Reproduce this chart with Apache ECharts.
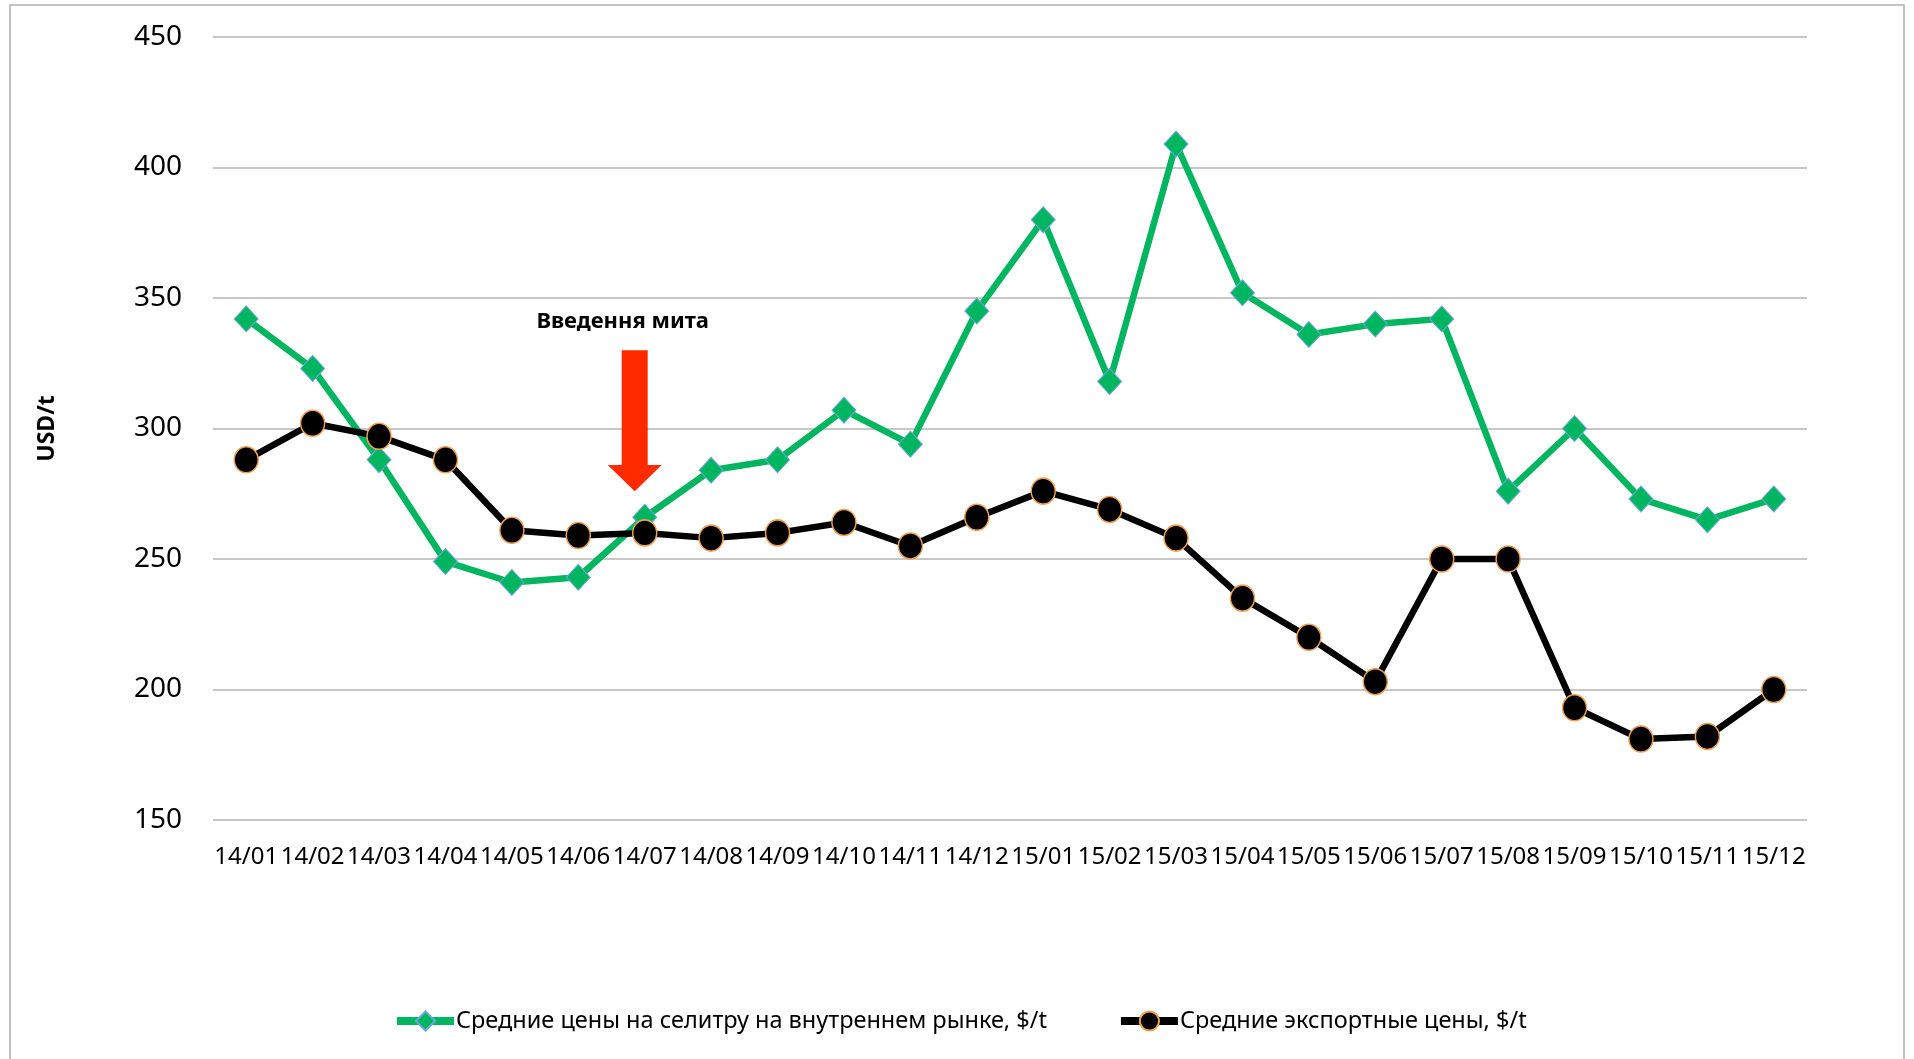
<!DOCTYPE html>
<html>
<head>
<meta charset="utf-8">
<title>Цены на селитру</title>
<script src="https://cdn.jsdelivr.net/npm/echarts@6/dist/echarts.min.js"></script>
<style>
  html, body { margin: 0; padding: 0; background: #fff; }
  #chart { width: 1914px; height: 1059px; }
</style>
</head>
<body>
<div id="chart"></div>
<script>
// місяці (рік/місяць)
const categories = ['14/01', '14/02', '14/03', '14/04', '14/05', '14/06', '14/07', '14/08', '14/09', '14/10', '14/11', '14/12',
  '15/01', '15/02', '15/03', '15/04', '15/05', '15/06', '15/07', '15/08', '15/09', '15/10', '15/11', '15/12']
// средние цены на внутреннем рынке, $/t
const domesticPrices = [342, 323, 288, 249, 241, 243, 266, 284, 288, 307, 294, 345,
  380, 318, 409, 352, 336, 340, 342, 276, 300, 273, 265, 273]
// средние экспортные цены, $/t
const exportPrices = [288, 302, 297, 288, 261, 259, 260, 258, 260, 264, 255, 266,
  276, 269, 258, 235, 220, 203, 250, 250, 193, 181, 182, 200]
const yMin = 150
const yMax = 450
const yStep = 50

const domesticName = 'Средние цены на селитру на внутреннем рынке, $/t'
const exportName = 'Средние экспортные цены, $/t'
const font = '"Noto Sans", "Open Sans", sans-serif'

const myChart = echarts.init(document.getElementById('chart'))

const option = {
  backgroundColor: '#fff',
  animation: false,
  grid: {
    left: 213,
    right: 107,
    top: 37,
    bottom: 239,
    containLabel: false
  },
  legend: {
    left: 388,
    top: 1004,
    itemWidth: 57,
    itemHeight: 24,
    itemGap: 70,
    textStyle: { fontFamily: font, fontSize: 23.5, color: '#000', padding: [0, 0, 0, -3] },
    lineStyle: { width: 8 },
    data: [domesticName, exportName]
  },
  xAxis: {
    type: 'category',
    data: categories,
    boundaryGap: true,
    axisLine: { show: false },
    axisTick: { show: false },
    axisLabel: {
      interval: 0,
      margin: 25,
      fontFamily: font,
      fontSize: 24,
      color: '#000'
    }
  },
  yAxis: {
    type: 'value',
    min: yMin,
    max: yMax,
    interval: yStep,
    name: 'USD/t',
    nameLocation: 'middle',
    nameRotate: 90,
    nameGap: 154,
    nameTextStyle: { fontFamily: font, fontSize: 23, fontWeight: 'bold', color: '#000' },
    axisLine: { show: false },
    axisTick: { show: false },
    axisLabel: {
      margin: 31,
      fontFamily: font,
      fontSize: 28,
      color: '#000'
    },
    splitLine: { lineStyle: { color: '#b4b4b4', width: 1.5 } }
  },
  series: [
    {
      name: domesticName,
      type: 'line',
      data: domesticPrices,
      symbol: 'diamond',
      symbolSize: [24, 26],
      lineStyle: { color: '#00b55f', width: 6.5 },
      itemStyle: { color: '#00b55f', borderColor: '#6fa8dc', borderWidth: 1 }
    },
    {
      name: exportName,
      type: 'line',
      data: exportPrices,
      symbol: 'circle',
      symbolSize: [24, 26],
      lineStyle: { color: '#000', width: 6.5 },
      itemStyle: { color: '#000', borderColor: '#f0a050', borderWidth: 1.5 }
    }
  ]
}
myChart.setOption(option)

// рамка та стрілка "Введення мита"
const px = myChart.convertToPixel({ seriesIndex: 0 }, ['14/07', 330])
const cx = px[0] - 10
const shaftTop = px[1]
const headTop = myChart.convertToPixel({ seriesIndex: 0 }, ['14/07', 286])[1]
const tip = myChart.convertToPixel({ seriesIndex: 0 }, ['14/07', 276])[1]
const textY = myChart.convertToPixel({ seriesIndex: 0 }, ['14/07', 341])[1]

myChart.setOption({
  graphic: [
    {
      type: 'rect',
      silent: true,
      shape: { x: 10, y: 5, width: 1894, height: 1070 },
      style: { fill: 'none', stroke: '#b0b0b0', lineWidth: 1.5 }
    },
    {
      type: 'polygon',
      silent: true,
      shape: {
        points: [
          [cx - 13, shaftTop], [cx + 13, shaftTop], [cx + 13, headTop], [cx + 27, headTop],
          [cx, tip], [cx - 27, headTop], [cx - 13, headTop]
        ]
      },
      style: { fill: '#ff2a00' }
    },
    {
      type: 'text',
      silent: true,
      x: cx - 12,
      y: textY,
      style: {
        text: 'Введення мита',
        fontFamily: font,
        fontSize: 22,
        fontWeight: 'bold',
        fill: '#000',
        align: 'center',
        verticalAlign: 'middle'
      }
    }
  ]
})

window.addEventListener('resize', function () {
  myChart.resize()
})
</script>
</body>
</html>
